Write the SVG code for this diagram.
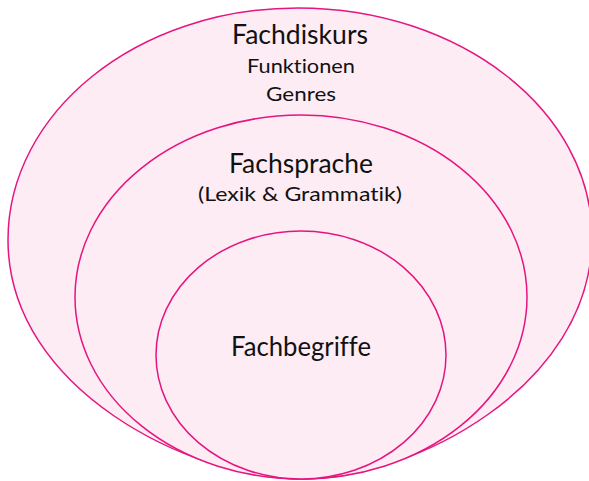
<svg xmlns="http://www.w3.org/2000/svg" width="589" height="481" viewBox="0 0 589 481">
<style>
.shape{fill:#FDECF4;stroke:#E5157F;stroke-width:1.5}
text{font-family:Lato,"Open Sans","DejaVu Sans",sans-serif;fill:#111;text-anchor:middle;font-variant-ligatures:none;font-feature-settings:"liga" 0,"clig" 0}
.big{font-size:27px}
.small{font-size:20px}
</style>
<rect width="589" height="481" fill="#fff"/>
<g id="fachdiskurs">
<path class="shape" d="M298,8 C460,8 592,111 592,237 C592,387 412,479 302,479 C192,479 8,390 8,240 C8,112 137,8 298,8 Z"/>
<text class="big" x="300" y="44" textLength="136" lengthAdjust="spacingAndGlyphs">Fachdiskurs</text>
<text class="small" x="301" y="73" textLength="108" lengthAdjust="spacingAndGlyphs">Funktionen</text>
<text class="small" x="301" y="101" textLength="70" lengthAdjust="spacingAndGlyphs">Genres</text>
</g>
<g id="fachsprache">
<ellipse class="shape" cx="301" cy="297" rx="226" ry="182"/>
<text class="big" x="301" y="173" textLength="144" lengthAdjust="spacingAndGlyphs">Fachsprache</text>
<text class="small" x="300" y="201" textLength="204" lengthAdjust="spacingAndGlyphs">(Lexik &amp; Grammatik)</text>
</g>
<g id="fachbegriffe">
<ellipse class="shape" cx="301" cy="355" rx="145" ry="124"/>
<text class="big" x="301" y="356" textLength="140" lengthAdjust="spacingAndGlyphs">Fachbegriffe</text>
</g>
<g id="connectors"></g>
</svg>
